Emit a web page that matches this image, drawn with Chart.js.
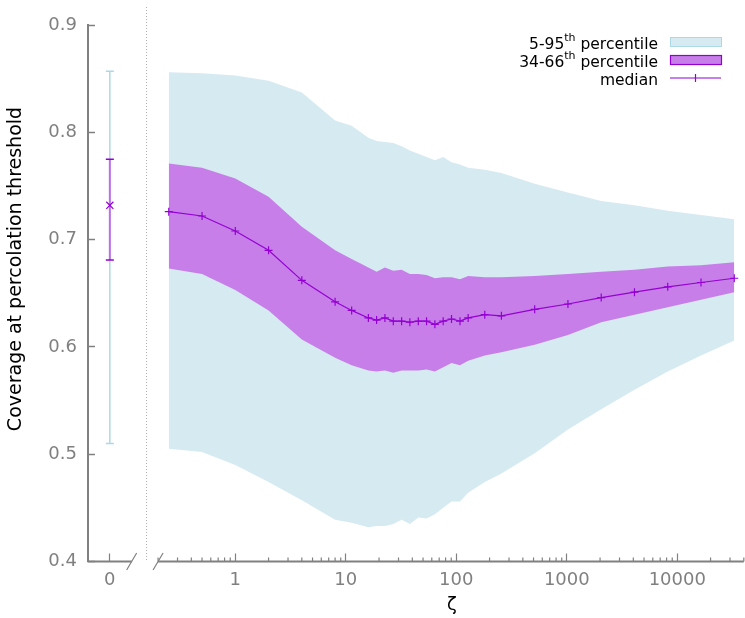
<!DOCTYPE html>
<html><head><meta charset="utf-8">
<script src="https://cdn.jsdelivr.net/npm/chart.js@4.4.1/dist/chart.umd.min.js"></script>
<style>html,body{margin:0;padding:0;background:#fff;}</style>
</head><body>
<canvas id="c" width="745" height="618"></canvas>
<script>
// ---- data ----
const zeta = [0.25, 0.5, 1, 2, 4, 8, 11.3, 16, 19, 22.6, 26.9, 32, 38, 45.3, 53.8, 64, 76.1, 90.5, 108, 128, 181, 256, 512, 1024, 2048, 4096, 8192, 16384, 32768];
const median = [0.726, 0.722, 0.708, 0.690, 0.662, 0.642, 0.634, 0.627, 0.625, 0.627, 0.624, 0.624, 0.623, 0.624, 0.624, 0.621, 0.624, 0.626, 0.624, 0.627, 0.630, 0.629, 0.635, 0.640, 0.646, 0.651, 0.656, 0.660, 0.664];
const p34 = [0.673, 0.668, 0.653, 0.634, 0.607, 0.590, 0.583, 0.578, 0.577, 0.578, 0.576, 0.578, 0.578, 0.578, 0.579, 0.577, 0.581, 0.585, 0.583, 0.587, 0.592, 0.595, 0.602, 0.611, 0.623, 0.630, 0.637, 0.644, 0.651];
const p66 = [0.771, 0.767, 0.757, 0.740, 0.712, 0.690, 0.682, 0.674, 0.670, 0.674, 0.671, 0.672, 0.668, 0.668, 0.667, 0.664, 0.665, 0.665, 0.663, 0.666, 0.665, 0.665, 0.666, 0.668, 0.670, 0.672, 0.675, 0.676, 0.679];
const p5 = [0.505, 0.502, 0.490, 0.474, 0.457, 0.439, 0.436, 0.432, 0.433, 0.433, 0.435, 0.439, 0.435, 0.441, 0.440, 0.444, 0.450, 0.456, 0.456, 0.464, 0.474, 0.482, 0.501, 0.523, 0.542, 0.560, 0.577, 0.592, 0.606];
const p95 = [0.856, 0.855, 0.853, 0.848, 0.837, 0.811, 0.806, 0.795, 0.792, 0.791, 0.790, 0.787, 0.783, 0.780, 0.777, 0.774, 0.777, 0.772, 0.770, 0.767, 0.765, 0.762, 0.752, 0.744, 0.736, 0.732, 0.727, 0.723, 0.719];
// the separate zeta = 0 point
const zeroX = [0];
const zeroMedian = [0.732];
const zeroP34 = [0.681];
const zeroP66 = [0.775];
const zeroP5 = [0.510];
const zeroP95 = [0.857];
// tick labels
const yTicks = [0.4, 0.5, 0.6, 0.7, 0.8, 0.9];
const xMajorTicks = [1, 10, 100, 1000, 10000];
const xMinorMultipliers = [2, 3, 4, 5, 6, 7, 8, 9];
const xTitle = 'ζ';
const yTitle = 'Coverage at percolation threshold';
const legendItems = [
  {main: '5-95', sup: 'th', tail: ' percentile'},
  {main: '34-66', sup: 'th', tail: ' percentile'},
  {main: '', sup: '', tail: 'median'}
];

// ---- styles ----
const GRAY = '#808080';
const LIGHTBLUE = '#add8e6';
const BLUE_FILL = 'rgb(214,234,241)';
const PURPLE_FILL = 'rgb(199,126,232)';
const VIOLET = '#9400d3';
const FONT = 'DejaVu Sans';
Chart.defaults.font.family = FONT;
// log-axis geometry: pixel of zeta = 1 and pixels per decade
const LOG_ONE_PX = 235.3, LOG_DECADE_PX = 110.5;
const LOG_AXIS_MIN = 0.15, LOG_AXIS_MAX = 40000;

const xy = (xs, ys) => xs.map((x, i) => ({x: x, y: ys[i]}));

// all log-axis tick values: majors at powers of ten, minors at 2..9 x 10^n
function allLogTicks() {
  const out = [];
  [0.1].concat(xMajorTicks).forEach(d => {
    out.push({value: d, major: true});
    xMinorMultipliers.forEach(m => out.push({value: +(m * d).toPrecision(6), major: false}));
  });
  return out.filter(t => t.value >= 0.2 && t.value <= LOG_AXIS_MAX).sort((a, b) => a.value - b.value);
}
function logTicks(scale) {
  scale.ticks = allLogTicks().filter(t => t.value >= scale.min && t.value <= scale.max);
}

const deco = {
  id: 'deco',
  afterLayout(chart) {
    // pin the log axis to a fixed decade spacing within the area the layout gave it
    const xl = chart.scales.x;
    xl.min = Math.pow(10, (xl.left - LOG_ONE_PX) / LOG_DECADE_PX);
    xl.max = Math.pow(10, (xl.right - LOG_ONE_PX) / LOG_DECADE_PX);
    xl.configure();
  },
  afterDraw(chart) {
    const ctx = chart.ctx;
    const x0 = chart.scales.x0, xl = chart.scales.x, ys = chart.scales.y;
    const yb = ys.getPixelForValue(0.4);
    const breakL = x0.getPixelForValue(1.0);
    const breakR = xl.getPixelForValue(0.2);
    const axisEnd = xl.getPixelForValue(LOG_AXIS_MAX);
    ctx.save();
    // axis lines with gap
    ctx.strokeStyle = GRAY; ctx.lineWidth = 2;
    ctx.beginPath();
    ctx.moveTo(x0.left, yb); ctx.lineTo(breakL, yb);
    ctx.moveTo(breakR, yb); ctx.lineTo(axisEnd, yb);
    ctx.stroke();
    // break marks
    ctx.lineWidth = 1.2;
    ctx.beginPath();
    ctx.moveTo(breakL - 5, yb + 8.5); ctx.lineTo(breakL + 5, yb - 8.5);
    ctx.moveTo(breakR - 5, yb + 8.5); ctx.lineTo(breakR + 5, yb - 8.5);
    ctx.stroke();
    // minor ticks (short)
    ctx.lineWidth = 1.2;
    ctx.beginPath();
    allLogTicks().forEach(t => {
      if (!t.major) {
        const px = xl.getPixelForValue(t.value);
        ctx.moveTo(px, yb); ctx.lineTo(px, yb - 4);
      }
    });
    ctx.stroke();
    // dotted separator
    ctx.strokeStyle = '#b0b0b0'; ctx.lineWidth = 1; ctx.setLineDash([1, 2]);
    const sx = Math.round(x0.right) + 0.5;
    ctx.beginPath(); ctx.moveTo(sx, 7); ctx.lineTo(sx, yb); ctx.stroke();
    ctx.setLineDash([]);
    // axis titles
    ctx.fillStyle = '#000'; ctx.textAlign = 'center'; ctx.textBaseline = 'middle';
    ctx.font = '18px "' + FONT + '"';
    ctx.fillText(xTitle, 452, 605);
    ctx.save();
    ctx.translate(16, 269);
    ctx.rotate(-Math.PI / 2);
    ctx.font = '19px "' + FONT + '"';
    ctx.fillText(yTitle, 0, 0);
    ctx.restore();
    // legend
    const textRight = 658, sw0 = 670, sw1 = 721;
    legendItems.forEach((it, i) => {
      const cy = 42 + i * 18;
      const base = cy + 7;
      ctx.fillStyle = '#000';
      ctx.textAlign = 'right'; ctx.textBaseline = 'alphabetic';
      ctx.font = '15.5px "' + FONT + '"';
      ctx.fillText(it.tail, textRight, base);
      let xr = textRight - ctx.measureText(it.tail).width;
      if (it.sup) {
        ctx.font = '11px "' + FONT + '"';
        ctx.fillText(it.sup, xr, base - 8);
        xr -= ctx.measureText(it.sup).width;
      }
      if (it.main) {
        ctx.font = '15.5px "' + FONT + '"';
        ctx.fillText(it.main, xr, base);
      }
      if (i === 0) {
        ctx.fillStyle = BLUE_FILL; ctx.fillRect(sw0, cy - 4.5, sw1 - sw0, 9);
        ctx.strokeStyle = LIGHTBLUE; ctx.lineWidth = 1; ctx.strokeRect(sw0 + 0.5, cy - 4.5, sw1 - sw0, 9);
      } else if (i === 1) {
        ctx.fillStyle = PURPLE_FILL; ctx.fillRect(sw0, cy - 4.5, sw1 - sw0, 9);
        ctx.strokeStyle = VIOLET; ctx.lineWidth = 1.2; ctx.strokeRect(sw0 + 0.5, cy - 4.5, sw1 - sw0, 9);
      } else {
        ctx.strokeStyle = VIOLET; ctx.lineWidth = 1.2;
        ctx.beginPath();
        ctx.moveTo(sw0, cy); ctx.lineTo(sw1, cy);
        const mx = (sw0 + sw1) / 2;
        ctx.moveTo(mx, cy - 4); ctx.lineTo(mx, cy + 4);
        ctx.stroke();
      }
    });
    ctx.restore();
  }
};

new Chart(document.getElementById('c'), {
  type: 'line',
  data: {
    datasets: [
      {label: '5-95', data: xy(zeta, p95), xAxisID: 'x', borderColor: 'rgba(0,0,0,0)', borderWidth: 1, pointRadius: 0, backgroundColor: BLUE_FILL, fill: '+1', order: 3},
      {label: '5', data: xy(zeta, p5), xAxisID: 'x', borderColor: 'rgba(0,0,0,0)', borderWidth: 1, pointRadius: 0, fill: false, order: 3},
      {label: '34-66', data: xy(zeta, p66), xAxisID: 'x', borderColor: 'rgba(0,0,0,0)', borderWidth: 1, pointRadius: 0, backgroundColor: PURPLE_FILL, fill: '+1', order: 2},
      {label: '34', data: xy(zeta, p34), xAxisID: 'x', borderColor: 'rgba(0,0,0,0)', borderWidth: 1, pointRadius: 0, fill: false, order: 2},
      {label: 'median', data: xy(zeta, median), xAxisID: 'x', borderColor: VIOLET, borderWidth: 1.2, pointStyle: 'cross', pointRadius: 4, pointBorderWidth: 1.2, pointBorderColor: VIOLET, fill: false, order: 0, clip: false},
      {label: 'zero 5-95', data: [{x: zeroX[0], y: zeroP5[0]}, {x: zeroX[0], y: zeroP95[0]}], xAxisID: 'x0', borderColor: LIGHTBLUE, borderWidth: 1.5, pointStyle: 'line', pointRadius: 4, pointBorderColor: LIGHTBLUE, pointBorderWidth: 1.5, fill: false, order: 5},
      {label: 'zero 34-66', data: [{x: zeroX[0], y: zeroP34[0]}, {x: zeroX[0], y: zeroP66[0]}], xAxisID: 'x0', borderColor: 'rgb(190,110,230)', borderWidth: 2, pointStyle: 'line', pointRadius: 4, pointBorderColor: VIOLET, pointBorderWidth: 1.5, fill: false, order: 4},
      {label: 'zero median', data: xy(zeroX, zeroMedian), xAxisID: 'x0', showLine: false, pointStyle: 'crossRot', pointRadius: 5, pointBorderColor: VIOLET, pointBorderWidth: 1.2, fill: false, order: 0}
    ]
  },
  options: {
    responsive: false,
    animation: false,
    events: [],
    layout: {padding: {left: 0, right: 1, top: 25, bottom: 0}},
    plugins: {legend: {display: false}, tooltip: {enabled: false}},
    scales: {
      y: {
        type: 'linear', position: 'left', min: 0.4, max: 0.9,
        afterBuildTicks: s => { s.ticks = yTicks.map(v => ({value: v})); },
        afterFit: s => { s.width = 88; },
        ticks: {color: GRAY, padding: 18, font: {size: 18, lineHeight: 0.6}, callback: v => v.toFixed(1)},
        grid: {drawOnChartArea: false, tickLength: -7, tickColor: GRAY, tickWidth: 1.5},
        border: {display: true, color: GRAY, width: 2}
      },
      x0: {
        type: 'linear', position: 'bottom', stack: 'xs', stackWeight: 58, min: -1, max: 1.636,
        afterBuildTicks: s => { s.ticks = zeroX.map(v => ({value: v, major: true})); },
        afterFit: s => { s.height = 56.5; },
        ticks: {color: GRAY, padding: 0, font: {size: 18, lineHeight: 2.94}, autoSkip: false, maxRotation: 0, callback: v => String(v)},
        grid: {drawOnChartArea: false, tickLength: -8, tickColor: GRAY, tickWidth: 1.2},
        border: {display: false}
      },
      x: {
        type: 'logarithmic', position: 'bottom', stack: 'xs', stackWeight: 598, min: LOG_AXIS_MIN, max: LOG_AXIS_MAX,
        afterBuildTicks: logTicks,
        afterFit: s => { s.height = 56.5; },
        ticks: {color: GRAY, padding: 0, font: {size: 18, lineHeight: 2.94}, autoSkip: false, maxRotation: 0,
          callback: v => xMajorTicks.includes(v) ? String(v) : ''},
        grid: {drawOnChartArea: false, tickLength: -8, tickWidth: 1.2,
          tickColor: c => (c.tick && c.tick.major) ? GRAY : 'rgba(0,0,0,0)'},
        border: {display: false}
      }
    }
  },
  plugins: [deco]
});
</script>
</body></html>
